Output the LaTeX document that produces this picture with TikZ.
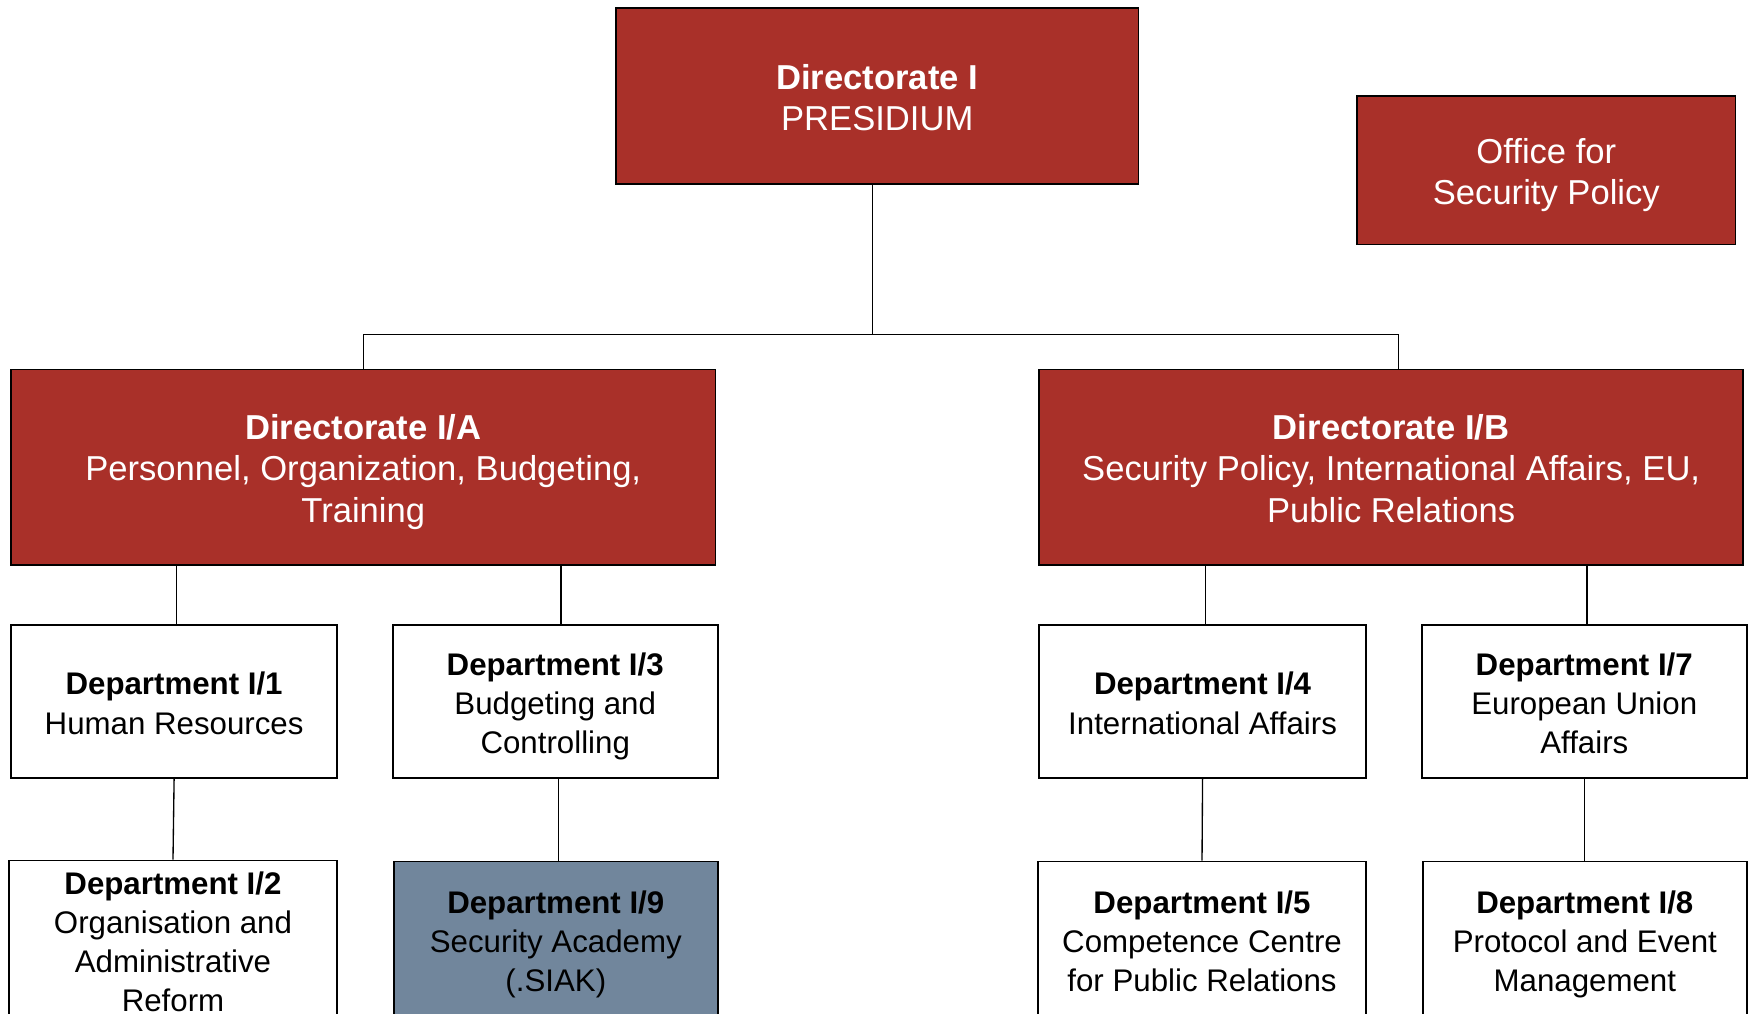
\documentclass[tikz,border=0pt]{standalone}
\usepackage{fontspec}
\setmainfont{Liberation Sans}
\definecolor{dirred}{RGB}{169,48,41}
\definecolor{slate}{RGB}{113,134,156}
\newcommand\capstrut{\rule{0pt}{\dimexpr0.72em+5pt\relax}}
\begin{document}
\begin{tikzpicture}[x=0.5pt,y=0.5pt,
  boxtext/.style={align=center, inner sep=0pt,
    execute at end node={\rule[-0.24em]{0pt}{0.24em}}},
  dirbox/.style={boxtext, draw, line width=0.8pt, fill=dirred, text=white,
    font=\fontsize{15.5}{18.5}\selectfont},
  deptbox/.style={boxtext, draw, line width=0.8pt, fill=white,
    minimum height=68.5pt, font=\fontsize{14}{17.5}\selectfont},
  link/.style={line width=0.6pt}]
\useasboundingbox (0,0) rectangle (1568,908);
\clip (0,0) rectangle (1568,908);
% directorates
\node[dirbox, minimum width=234pt, minimum height=79pt] (dir) at (786,822) {\capstrut\textbf{Directorate I}\\PRESIDIUM};
\node[dirbox, minimum width=169.5pt, minimum height=66.5pt] (office) at (1385.5,755.5) {\capstrut Office for\\Security Policy};
\node[dirbox, minimum width=315.5pt, minimum height=87.5pt] (dira) at (325.5,489.5) {\capstrut\textbf{Directorate I/A}\\Personnel, Organization, Budgeting,\\Training};
\node[dirbox, minimum width=315.5pt, minimum height=87.5pt] (dirb) at (1246.5,489.5) {\capstrut\textbf{Directorate I/B}\\Security Policy, International Affairs, EU,\\Public Relations};
% departments
\node[deptbox, minimum width=146pt] (d1) at (156,279.5) {\capstrut\textbf{Department I/1}\\Human Resources};
\node[deptbox, minimum width=145.5pt] (d3) at (497.5,279.5) {\capstrut\textbf{Department I/3}\\Budgeting and\\Controlling};
\node[deptbox, minimum width=146.5pt] (d4) at (1077.5,279.5) {\capstrut\textbf{Department I/4}\\International Affairs};
\node[deptbox, minimum width=145.5pt] (d7) at (1419.5,279.5) {\capstrut\textbf{Department I/7}\\European Union\\Affairs};
\node[deptbox, minimum width=147pt, minimum height=70pt] (d2) at (155,66) {\capstrut\textbf{Department I/2}\\Organisation and\\Administrative\\Reform};
\node[deptbox, minimum width=145pt, minimum height=70pt, fill=slate] (d9) at (498,66) {\capstrut\textbf{Department I/9}\\Security Academy\\(.SIAK)};
\node[deptbox, minimum width=147pt, minimum height=70pt] (d5) at (1077,66) {\capstrut\textbf{Department I/5}\\Competence Centre\\for Public Relations};
\node[deptbox, minimum width=145pt, minimum height=70pt] (d8) at (1420,66) {\capstrut\textbf{Department I/8}\\Protocol and Event\\Management};
% connectors
\coordinate (bus) at (782,608);
\draw[link] (dir.south -| bus) -- (bus);
\draw[link] (dira.north) |- (bus) -| ([xshift=3.25pt]dirb.north);
\draw[link] ([xshift=1pt]dira.south -| d1.north) -- ([xshift=1pt]d1.north);
\draw[link] ([xshift=2.5pt]dira.south -| d3.north) -- ([xshift=2.5pt]d3.north);
\draw[link] ([xshift=1.25pt]dirb.south -| d4.north) -- ([xshift=1.25pt]d4.north);
\draw[link] ([xshift=1.25pt]dirb.south -| d7.north) -- ([xshift=1.25pt]d7.north);
\draw[link] (d1.south) -- (d2.north);
\draw[link] ([xshift=1.5pt]d3.south) -- ([xshift=1.5pt]d3.south |- d9.north);
\draw[link] (d4.south) -- (d5.north);
\draw[link] (d7.south) -- (d7.south |- d8.north);
\end{tikzpicture}
\end{document}
